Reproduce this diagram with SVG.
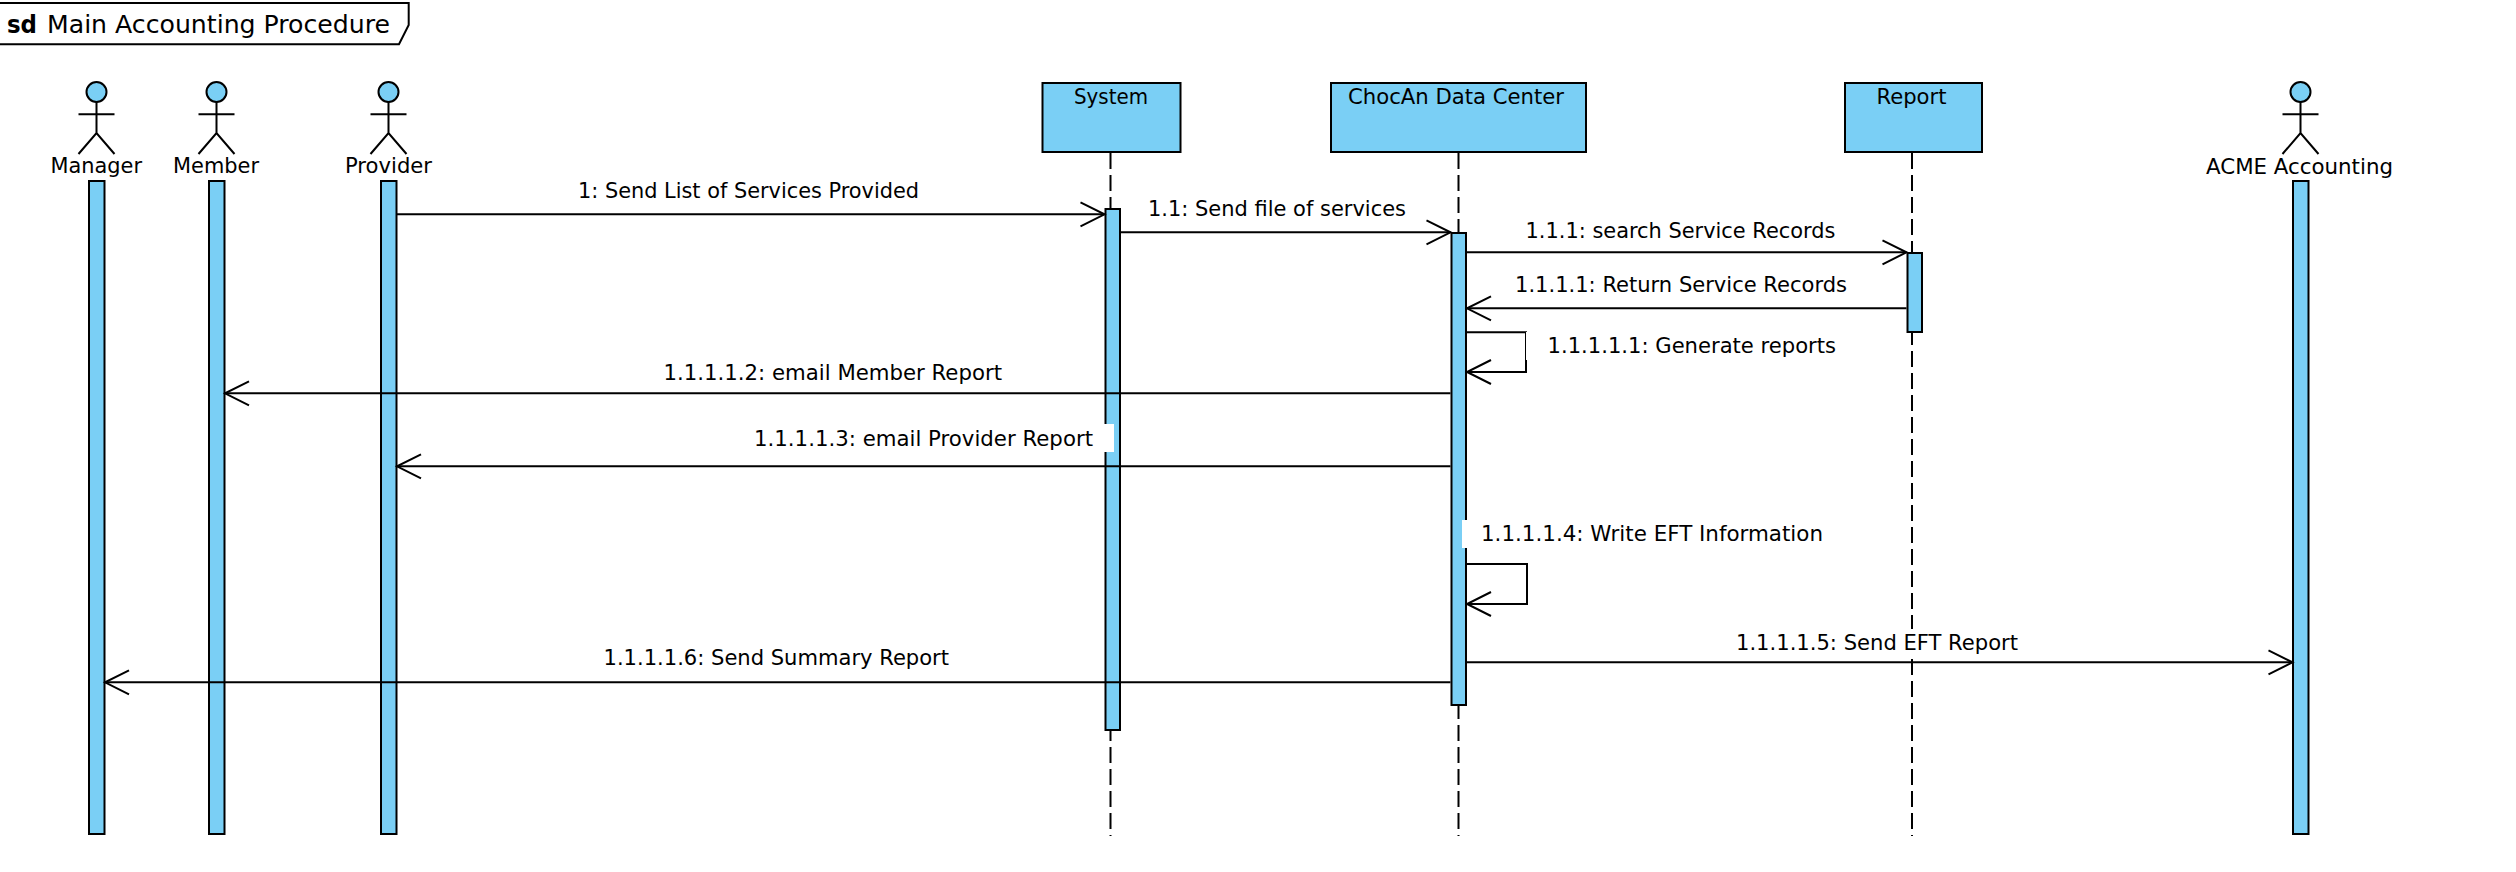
<svg xmlns="http://www.w3.org/2000/svg" width="2516" height="872" viewBox="0 0 2516 872">
<style>
text{font-family:"DejaVu Sans","Liberation Sans",sans-serif;font-size:21px;fill:#000}
.bar,.box,.head{fill:#7acff5;stroke:#000;stroke-width:2}
.stick,.frame,.msg{fill:none;stroke:#000;stroke-width:2}
.frame{fill:#fff}
.life{stroke:#000;stroke-width:2;stroke-dasharray:16 6;fill:none}
.mask{fill:#fff;stroke:none}
.msg{marker-end:url(#open)}
.title{font-size:24px}
.sd{font-size:24px;font-weight:bold}
</style>
<defs>
<marker id="open" markerUnits="userSpaceOnUse" markerWidth="30" markerHeight="30" refX="26" refY="14" orient="auto"><path d="M2,2 L26,14 L2,26" fill="none" stroke="#000" stroke-width="2"/></marker>
<g id="actor"><circle class="head" cx="0" cy="92" r="10"/><path class="stick" d="M0,102 V133 M-18,114.3 H18 M-18,154 L0,133 L18,154"/></g>
</defs>
<rect width="2516" height="872" fill="#fff"/>
<g id="frame">
<path class="frame" d="M-3,3 H408.7 V25 L399,44.3 H-3 Z"/>
<text class="sd" x="7" y="33" textLength="30" lengthAdjust="spacingAndGlyphs">sd</text>
<text class="title" x="47" y="33" textLength="343" lengthAdjust="spacingAndGlyphs">Main Accounting Procedure</text>
</g>
<g id="manager"><use href="#actor" x="96.5"/><text x="50.5" y="173" textLength="91.5" lengthAdjust="spacingAndGlyphs">Manager</text><rect class="bar" x="89" y="181" width="15.5" height="653"/></g>
<g id="member"><use href="#actor" x="216.5"/><text x="173" y="173" textLength="86" lengthAdjust="spacingAndGlyphs">Member</text><rect class="bar" x="209" y="181" width="15.5" height="653"/></g>
<g id="provider"><use href="#actor" x="388.5"/><text x="345" y="173" textLength="87" lengthAdjust="spacingAndGlyphs">Provider</text><rect class="bar" x="381" y="181" width="15.5" height="653"/></g>
<g id="acme"><use href="#actor" x="2300.5"/><text x="2206" y="173.5" textLength="187" lengthAdjust="spacingAndGlyphs">ACME Accounting</text><rect class="bar" x="2293" y="181" width="15.5" height="653"/></g>
<g id="system"><path class="life" d="M1110.5,153 V836"/><rect class="box" x="1042.5" y="83" width="138" height="69"/><text x="1074" y="104" textLength="74" lengthAdjust="spacingAndGlyphs">System</text><rect class="bar" x="1105.5" y="209" width="14.5" height="521"/></g>
<g id="datacenter"><path class="life" d="M1458.5,153 V836"/><rect class="box" x="1331" y="83" width="255" height="69"/><text x="1348" y="104" textLength="216" lengthAdjust="spacingAndGlyphs">ChocAn Data Center</text><rect class="bar" x="1451.5" y="233" width="14.5" height="472"/></g>
<g id="report"><path class="life" d="M1912,153 V836"/><rect class="box" x="1845" y="83" width="137" height="69"/><text x="1876.5" y="104" textLength="70" lengthAdjust="spacingAndGlyphs">Report</text><rect class="bar" x="1907.5" y="253" width="14.5" height="79"/></g>
<g id="connectors">
<path class="msg" d="M397,214.3 H1104.5"/>
<path class="msg" d="M1121,232.3 H1450.5"/>
<path class="msg" d="M1467,252.3 H1906.5"/>
<path class="msg" d="M1906.5,308.3 H1467"/>
<path class="msg" d="M1467,332.3 H1526 V372 H1467"/>
<path class="msg" d="M1450.5,393.3 H225"/>
<path class="msg" d="M1450.5,466.3 H397"/>
<path class="msg" d="M1467,564 H1527 V604 H1467"/>
<path class="msg" d="M1467,662.3 H2292.5"/>
<path class="msg" d="M1450.5,682.3 H105"/>
<rect class="mask" x="1526" y="332" width="340" height="28"/>
<rect class="mask" x="734" y="424" width="380" height="28"/>
<rect class="mask" x="1462" y="520" width="380" height="28"/>
<rect class="mask" x="1716" y="629" width="322" height="28"/>
<text x="578" y="197.7" textLength="341" lengthAdjust="spacingAndGlyphs">1: Send List of Services Provided</text>
<text x="1148" y="216" textLength="258" lengthAdjust="spacingAndGlyphs">1.1: Send file of services</text>
<text x="1525.5" y="237.7" textLength="310" lengthAdjust="spacingAndGlyphs">1.1.1: search Service Records</text>
<text x="1515" y="291.7" textLength="332" lengthAdjust="spacingAndGlyphs">1.1.1.1: Return Service Records</text>
<text x="1547.5" y="353" textLength="288.5" lengthAdjust="spacingAndGlyphs">1.1.1.1.1: Generate reports</text>
<text x="663.5" y="380" textLength="338.5" lengthAdjust="spacingAndGlyphs">1.1.1.1.2: email Member Report</text>
<text x="754" y="445.7" textLength="339" lengthAdjust="spacingAndGlyphs">1.1.1.1.3: email Provider Report</text>
<text x="1481" y="541" textLength="342" lengthAdjust="spacingAndGlyphs">1.1.1.1.4: Write EFT Information</text>
<text x="1736" y="650" textLength="282" lengthAdjust="spacingAndGlyphs">1.1.1.1.5: Send EFT Report</text>
<text x="603.5" y="665" textLength="345.5" lengthAdjust="spacingAndGlyphs">1.1.1.1.6: Send Summary Report</text>
</g>
</svg>
